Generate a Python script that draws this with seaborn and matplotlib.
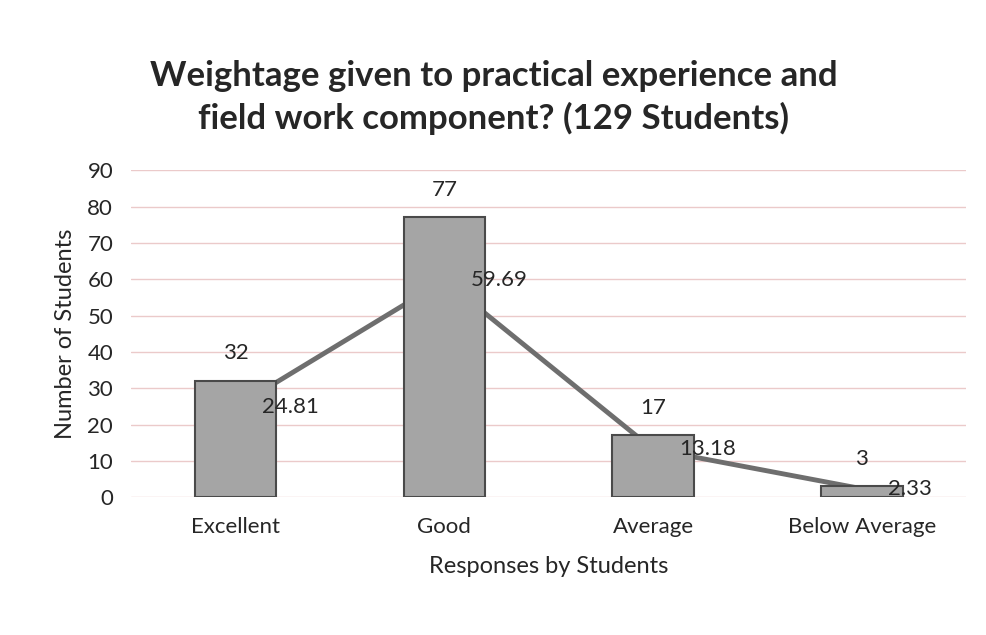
import numpy as np
import pandas as pd
import seaborn as sns
import matplotlib.pyplot as plt

# data
responses = ['Excellent', 'Good', 'Average', 'Below Average']
students = [32, 77, 17, 3]
percent = [24.81, 59.69, 13.18, 2.33]

sns.set_theme(style='white')
plt.rcParams['font.family'] = ['Lato', 'DejaVu Sans']

dat = pd.DataFrame({'response': responses, 'students': students, 'percent': percent})

fig = plt.figure(figsize=(9.87, 6.35), dpi=100)
ax = fig.add_axes([0.133, 0.217, 0.846, 0.515])

sns.barplot(x='response', y='students', data=dat, color='#a5a5a5',
            edgecolor='#4a4a4a', linewidth=1.5, width=0.39, saturation=1,
            zorder=3, ax=ax)
#percentage line sits behind the bars
ax.plot(dat['response'], dat['percent'], color='#6e6e6e', lw=3.5, zorder=2)

for i, (n, p) in enumerate(zip(students, percent)):
    ax.annotate(str(n), (i, n), xytext=(0, 20), textcoords='offset points',
                ha='center', va='center', fontsize=16, zorder=5)
    ax.annotate(f'{p:.2f}', (i, p), xytext=(19, 0), textcoords='offset points',
                ha='left', va='center', fontsize=16, zorder=5)

ax.set_xlim(-0.5, 3.5)
ax.set_ylim(0, 90)
ax.set_yticks(np.arange(0, 91, 10))
ax.yaxis.grid(True, color='#ebcaca', lw=1)
ax.set_axisbelow(True)
sns.despine(left=True, bottom=True)
ax.tick_params(axis='both', labelsize=16, length=0)
ax.tick_params(axis='x', pad=14)
ax.tick_params(axis='y', pad=13)
ax.set_xlabel('Responses by Students', fontsize=17, labelpad=14)
ax.set_ylabel('Number of Students', fontsize=17, labelpad=8)

fig.suptitle('Weightage given to practical experience and\nfield work component? (129 Students)',
             fontsize=25, fontweight='bold', x=0.5, y=0.905, linespacing=1.35)

plt.savefig('out.png', dpi=100)
